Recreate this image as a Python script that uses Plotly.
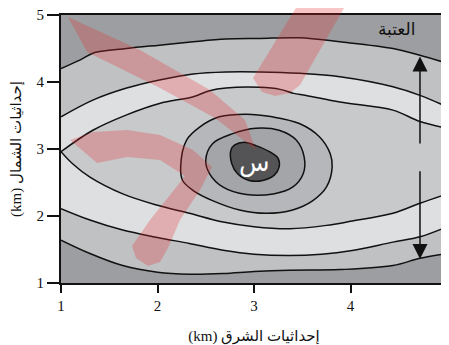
import plotly.graph_objects as go

# contour lines (east km, north km)
line_a_x = [1.00, 1.20, 1.35, 1.68, 2.02, 2.37, 2.71, 3.06, 3.47, 3.89, 4.44, 4.72, 5.00]
line_a_y = [4.20, 4.33, 4.44, 4.50, 4.55, 4.60, 4.64, 4.65, 4.66, 4.60, 4.50, 4.40, 4.28]

line_b_x = [1.00, 1.33, 1.68, 2.02, 2.37, 2.71, 3.06, 3.47, 3.89, 4.44, 4.72, 5.00]
line_b_y = [3.48, 3.73, 3.91, 4.03, 4.12, 4.15, 4.15, 4.13, 4.08, 3.93, 3.80, 3.63]

line_c_up_x = [1.00, 1.33, 1.68, 2.02, 2.37, 2.54, 2.71, 3.06, 3.27, 3.41, 3.54, 3.89, 4.44, 4.72, 5.00]
line_c_up_y = [2.96, 3.28, 3.51, 3.68, 3.78, 3.87, 3.91, 3.92, 3.89, 3.83, 3.80, 3.70, 3.58, 3.41, 3.31]

line_c_lo_x = [1.00, 1.12, 1.30, 1.64, 2.00, 2.33, 2.68, 3.00, 3.37, 3.75, 4.00, 4.44, 4.72, 5.00]
line_c_lo_y = [2.96, 2.78, 2.58, 2.33, 2.16, 2.04, 1.91, 1.84, 1.81, 1.86, 1.92, 2.04, 2.19, 2.33]

line_d_x = [1.00, 1.30, 1.64, 2.00, 2.33, 2.68, 3.00, 3.37, 3.70, 4.00, 4.44, 4.72, 5.00]
line_d_y = [2.11, 1.94, 1.79, 1.68, 1.59, 1.49, 1.43, 1.41, 1.43, 1.48, 1.61, 1.69, 1.84]

line_e_x = [1.00, 1.30, 1.64, 2.00, 2.33, 2.68, 3.00, 3.37, 3.89, 4.44, 4.72, 5.00]
line_e_y = [1.64, 1.44, 1.26, 1.16, 1.13, 1.14, 1.17, 1.19, 1.20, 1.26, 1.37, 1.44]

ring1_x = [2.24, 2.30, 2.44, 2.64, 2.92, 3.19, 3.47, 3.68, 3.79, 3.81, 3.75, 3.61, 3.40, 3.13, 2.85, 2.57, 2.37, 2.26, 2.24]
ring1_y = [2.73, 3.13, 3.33, 3.48, 3.52, 3.48, 3.38, 3.18, 2.93, 2.73, 2.43, 2.23, 2.09, 2.04, 2.09, 2.23, 2.38, 2.53, 2.73]

ring2_x = [2.50, 2.57, 2.78, 3.02, 3.26, 3.44, 3.52, 3.51, 3.40, 3.20, 2.92, 2.68, 2.54, 2.50]
ring2_y = [2.83, 3.08, 3.23, 3.31, 3.28, 3.13, 2.88, 2.63, 2.43, 2.33, 2.32, 2.43, 2.63, 2.83]

core_x = [2.76, 2.80, 2.90, 3.02, 3.16, 3.25, 3.26, 3.21, 3.09, 2.95, 2.83, 2.77, 2.76]
core_y = [2.98, 3.06, 3.10, 3.05, 2.96, 2.86, 2.73, 2.61, 2.53, 2.53, 2.63, 2.78, 2.98]

arrow_x = 4.72
arrow_up = (3.06, 4.38)
arrow_down = (2.69, 1.36)

x_ticks = [1, 2, 3, 4, 5]
y_ticks = [1, 2, 3, 4, 5]

c_outer = "#9d9ea1"
c_band = "#c0c1c3"
c_light = "#dedfe1"
c_inner = "#c8c9cb"
c_ring1 = "#b6b7ba"
c_ring2 = "#a4a5a8"
c_core = "#545456"

serif = "Liberation Serif, DejaVu Serif, DejaVu Sans, serif"

fig = go.Figure()


def add_line(x, y, **kw):
    fig.add_trace(go.Scatter(x=x, y=y, mode="lines", hoverinfo="skip", showlegend=False,
                             line=kw.pop("line", dict(width=0, shape="spline")), **kw))


# filled bands (fills first, black outlines on top)
add_line(line_e_x, line_e_y)
add_line(line_a_x, line_a_y, fill="tonexty", fillcolor=c_band)
add_line(line_d_x, line_d_y)
add_line(line_b_x, line_b_y, fill="tonexty", fillcolor=c_light)
add_line(line_c_lo_x, line_c_lo_y)
add_line(line_c_up_x, line_c_up_y, fill="tonexty", fillcolor=c_inner)
add_line(ring1_x, ring1_y, fill="toself", fillcolor=c_ring1)
add_line(ring2_x, ring2_y, fill="toself", fillcolor=c_ring2)
add_line(core_x, core_y, fill="toself", fillcolor=c_core)

black = dict(color="#111111", width=1.5, shape="spline", smoothing=1)
for lx, ly in [(line_a_x, line_a_y), (line_b_x, line_b_y), (line_c_up_x, line_c_up_y),
               (line_c_lo_x, line_c_lo_y), (line_d_x, line_d_y), (line_e_x, line_e_y),
               (ring1_x, ring1_y), (ring2_x, ring2_y), (core_x, core_y)]:
    add_line(lx, ly, line=black)

# arrows
for tail, head in [arrow_up, arrow_down]:
    fig.add_annotation(x=arrow_x, y=head, ax=arrow_x, ay=tail, axref="x", ayref="y",
                       xref="x", yref="y", text="", showarrow=True,
                       arrowhead=2, arrowsize=2, arrowwidth=1.5, arrowcolor="#111111")

fig.add_annotation(x=4.48, y=4.78, text="العتبة", showarrow=False,
                   font=dict(family=serif, size=17, color="#111111"))
fig.add_annotation(x=3.0, y=2.79, text="س", showarrow=False,
                   font=dict(family=serif, size=25, color="white"))


# watermark (pixel outline in the reference converted to paper coords)
def wm_path(pts):
    pp = [((px - 61) / 386, (283 - py) / 268) for px, py in pts]
    return "M " + " L ".join(f"{a:.4f},{b:.4f}" for a, b in pp) + " Z"


wm = [
    [(68, 17), (140, 50), (210, 90), (245, 120), (256, 150), (215, 118), (160, 88), (87, 52)],
    [(313, -20), (360, -20), (300, 85), (290, 93), (275, 96), (262, 92), (253, 78)],
    [(70, 140), (93, 132), (127, 130), (160, 135), (193, 150), (212, 167), (200, 190),
     (180, 220), (168, 248), (160, 262), (148, 266), (136, 258), (132, 246), (150, 220),
     (170, 195), (185, 176), (160, 160), (127, 157), (97, 163)],
]
for pts in wm:
    fig.add_shape(type="path", path=wm_path(pts), xref="paper", yref="paper",
                  fillcolor="rgba(228,45,45,0.27)", line=dict(width=0), layer="above")

axis_common = dict(showgrid=False, zeroline=False, showline=True, linecolor="#111111",
                   linewidth=2, mirror=True, ticks="outside", tickcolor="#111111",
                   tickwidth=1.5, automargin=False, ticklabeloverflow="allow",
                   tickfont=dict(family=serif, size=15, color="#111111"))

fig.update_xaxes(range=[1, 5], tickvals=x_ticks, ticklen=8,
                 title=dict(text="\u202bإحداثيات الشرق (km)\u202c", standoff=17,
                            font=dict(family=serif, size=15, color="#111111")),
                 **axis_common)
fig.update_yaxes(range=[1, 5], tickvals=y_ticks, ticklen=12,
                 title=dict(text="\u202bإحداثيات الشمال (km)\u202c", standoff=14,
                            font=dict(family=serif, size=15, color="#111111")),
                 **axis_common)

# the page body adds an 8px offset, so the margins are shifted to compensate
fig.update_layout(width=441, height=337, margin=dict(l=53, r=2, t=7, b=62),
                  plot_bgcolor=c_outer, paper_bgcolor="white")

fig.write_html("out.html")
